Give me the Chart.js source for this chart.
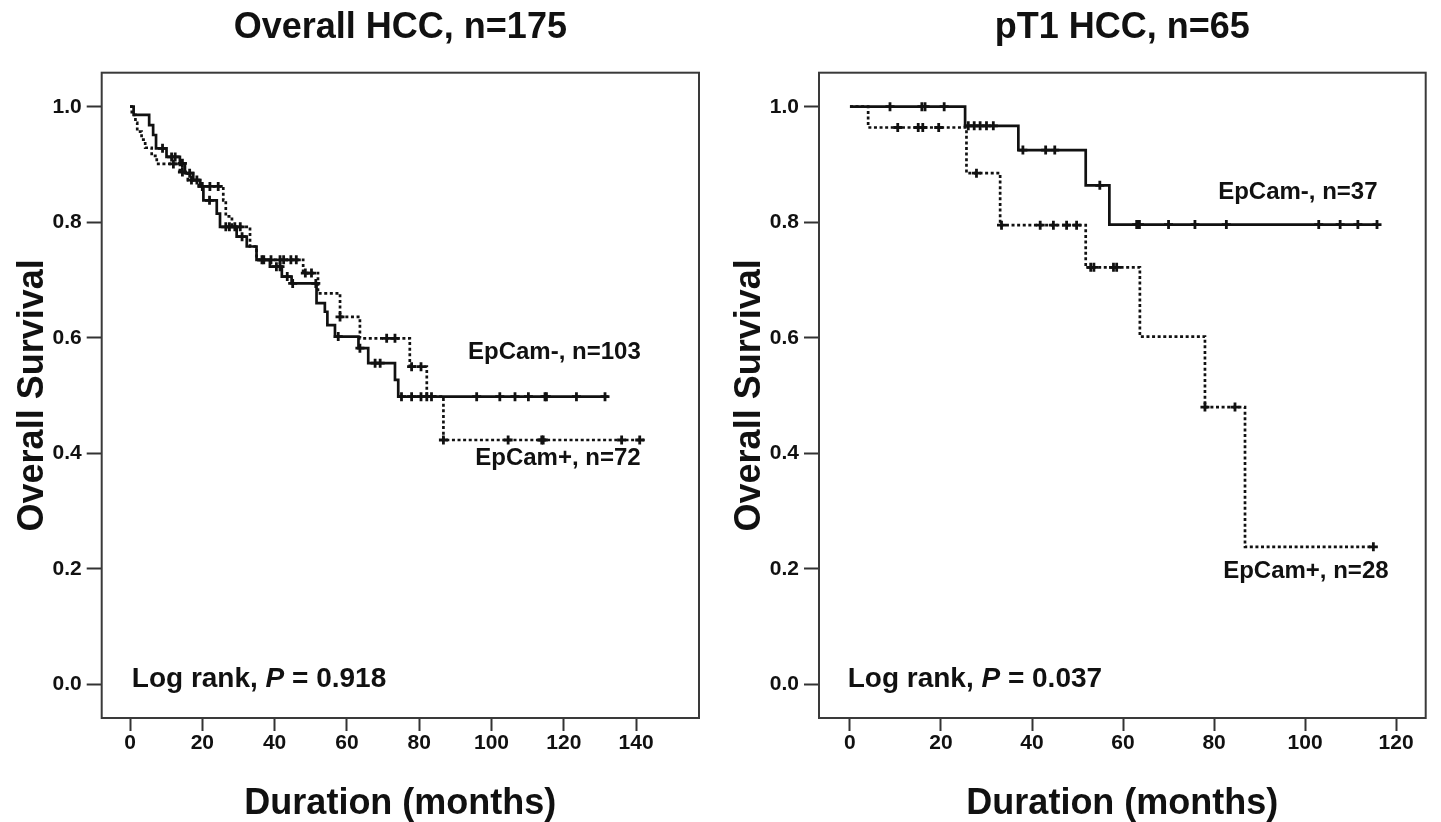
<!DOCTYPE html>
<html>
<head>
<meta charset="utf-8">
<title>EpCam survival - HCC</title>
<script src="https://cdn.jsdelivr.net/npm/chart.js@4.4.0/dist/chart.umd.min.js"></script>
<style>
  html, body { margin: 0; padding: 0; background: #fff; }
  body { width: 1441px; height: 822px; position: relative; overflow: hidden; }
  .panel { position: absolute; top: 0; height: 822px; }
  #panelOverall { left: 0; width: 717px; }
  #panelPT1 { left: 717px; width: 724px; }
</style>
</head>
<body>
<div class="panel" id="panelOverall"><canvas id="chart-overall"></canvas></div>
<div class="panel" id="panelPT1"><canvas id="chart-pt1"></canvas></div>
<script>
// ---- Overall HCC, n=175 ----
// step curves: time (months) where survival drops to the value
const overallNegTime = [0, 1.0, 5.3, 6.4, 7.2, 10.1, 13.8, 15.2, 17.5, 19.4, 20.3, 24.0, 24.9, 29.5, 32.3, 35.0, 38.7, 42.0, 44.7, 51.6, 53.9, 54.6, 56.7, 63.2, 65.9, 73.3, 74.2, 132.3];
const overallNegSurv = [1.0, 0.986, 0.968, 0.951, 0.928, 0.913, 0.902, 0.885, 0.873, 0.862, 0.838, 0.815, 0.792, 0.775, 0.758, 0.735, 0.723, 0.706, 0.694, 0.660, 0.645, 0.622, 0.602, 0.582, 0.556, 0.527, 0.498, 0.498];
const overallNegCensor = [9.0, 11.5, 12.5, 14.5, 16.5, 18.5, 22.0, 26.5, 27.5, 31.0, 37.0, 40.5, 41.5, 43.5, 45.0, 51.4, 57.6, 63.6, 67.8, 69.2, 75.1, 77.9, 80.5, 82.1, 83.4, 95.9, 102.3, 106.5, 110.2, 114.8, 115.2, 123.5, 131.4];

const overallPosTime = [0, 0.5, 1.5, 2.0, 3.2, 4.2, 6.0, 7.4, 13.8, 16.0, 19.0, 25.8, 26.5, 28.2, 33.2, 35.0, 47.9, 52.0, 58.1, 63.6, 77.4, 82.1, 86.7, 142.4];
const overallPosSurv = [1.0, 0.986, 0.972, 0.957, 0.943, 0.929, 0.915, 0.901, 0.887, 0.873, 0.862, 0.838, 0.810, 0.792, 0.758, 0.735, 0.712, 0.677, 0.636, 0.599, 0.550, 0.498, 0.423, 0.423];
const overallPosCensor = [12.0, 14.5, 17.0, 20.0, 22.1, 24.4, 29.0, 30.5, 36.5, 39.0, 41.5, 42.5, 44.5, 46.0, 48.5, 50.2, 58.1, 71.0, 73.3, 77.9, 80.5, 86.7, 104.6, 113.9, 114.3, 136.0, 141.0];

// ---- pT1 HCC, n=65 ----
const pt1NegTime = [0, 25.3, 37.0, 51.8, 57.0, 116.0];
const pt1NegSurv = [1.0, 0.967, 0.925, 0.864, 0.796, 0.796];
const pt1NegCensor = [8.8, 15.8, 16.5, 20.7, 26.0, 27.3, 28.6, 30.0, 31.5, 38.0, 43.0, 45.0, 54.9, 63.0, 63.6, 70.0, 75.8, 82.7, 103.0, 107.7, 111.6, 115.8];

const pt1PosTime = [0, 4.0, 25.6, 33.0, 51.8, 63.7, 78.0, 86.8, 115.0];
const pt1PosSurv = [1.0, 0.964, 0.885, 0.795, 0.722, 0.602, 0.480, 0.238, 0.238];
const pt1PosCensor = [10.5, 15.0, 16.0, 19.5, 27.8, 33.3, 41.8, 44.7, 47.6, 49.8, 52.9, 53.6, 57.9, 58.6, 78.0, 84.6, 115.0];

// axis ticks
const yTicks = [0, 0.2, 0.4, 0.6, 0.8, 1.0];
const overallXTicks = [0, 20, 40, 60, 80, 100, 120, 140];
const pt1XTicks = [0, 20, 40, 60, 80, 100, 120];

const FONT = '"Liberation Sans", Arial, sans-serif';
const NARROW = '"Liberation Sans Narrow", "Arial Narrow", "Liberation Sans", Arial, sans-serif';

function stepPoints(times, surv) {
    return times.map((t, i) => ({ x: t, y: surv[i] }));
}

function survivalAt(times, surv, t) {
    let s = surv[0];
    for (let i = 0; i < times.length; i++) {
        if (times[i] <= t) s = surv[i];
    }
    return s;
}

function censorPoints(times, surv, censor) {
    return censor.map(t => ({ x: t, y: survivalAt(times, surv, t) }));
}

// box round the plot area
const frameBox = {
    id: 'frameBox',
    beforeDatasetsDraw(chart) {
        const { ctx, chartArea: a } = chart;
        ctx.save();
        ctx.strokeStyle = '#3a3a3a';
        ctx.lineWidth = 2;
        ctx.strokeRect(a.left, a.top, a.right - a.left, a.bottom - a.top);
        ctx.restore();
    }
};

// panel title, group labels and the log rank line
const panelText = {
    id: 'panelText',
    afterDraw(chart, args, opts) {
        const { ctx, chartArea, scales: { x, y } } = chart;
        ctx.save();
        ctx.fillStyle = '#111';
        ctx.textBaseline = 'middle';

        ctx.font = 'bold 36px ' + FONT;
        ctx.textAlign = 'center';
        ctx.fillText(opts.title, (chartArea.left + chartArea.right) / 2, 28);

        ctx.font = 'bold 24px ' + FONT;
        ctx.textAlign = 'left';
        opts.labels.forEach(l => {
            ctx.fillText(l.text, x.getPixelForValue(l.x), y.getPixelForValue(l.y));
        });

        let px = x.getPixelForValue(opts.logRankX);
        const py = y.getPixelForValue(opts.logRankY);
        const parts = [['Log rank, ', 'bold'], ['P', 'italic bold'], [' = ' + opts.pValue, 'bold']];
        parts.forEach(([txt, style]) => {
            ctx.font = style + ' 28px ' + FONT;
            ctx.fillText(txt, px, py);
            px += ctx.measureText(txt).width;
        });
        ctx.restore();
    }
};

function curve(points, dashed) {
    return {
        data: points,
        showLine: true,
        stepped: 'before',
        borderColor: '#111',
        borderWidth: 2.7,
        borderDash: dashed ? [3, 2.6] : [],
        pointRadius: 0,
        fill: false
    };
}

function marks(points) {
    return {
        data: points,
        showLine: false,
        pointStyle: 'cross',
        pointRadius: 4.5,
        borderColor: '#111',
        backgroundColor: '#111',
        borderWidth: 2.8
    };
}

function makeOptions(cfg) {
    return {
        responsive: true,
        maintainAspectRatio: false,
        animation: false,
        layout: { padding: { top: 72.7, right: cfg.padRight, bottom: 0, left: 0 } },
        plugins: {
            legend: { display: false },
            tooltip: { enabled: false },
            panelText: cfg.text
        },
        scales: {
            x: {
                type: 'linear',
                min: cfg.xMin,
                max: cfg.xMax,
                afterFit: s => { s.height = 104; },
                afterBuildTicks: s => { s.ticks = cfg.xTicks.map(v => ({ value: v })); },
                grid: { drawOnChartArea: false, drawTicks: true, tickLength: 13, tickWidth: 2, tickColor: '#333' },
                border: { display: false },
                ticks: { font: { family: NARROW, size: 21, weight: 'bold' }, color: '#111', padding: 0, maxRotation: 0, autoSkip: false },
                title: {
                    display: true,
                    text: 'Duration (months)',
                    color: '#111',
                    font: { family: FONT, size: 36, weight: 'bold', lineHeight: 1 },
                    padding: { top: 0, bottom: 0 }
                }
            },
            y: {
                type: 'linear',
                min: -0.0583,
                max: 1.0589,
                afterFit: s => { s.width = cfg.yWidth; },
                afterBuildTicks: s => { s.ticks = yTicks.map(v => ({ value: v })); },
                grid: { drawOnChartArea: false, drawTicks: true, tickLength: 15, tickWidth: 2, tickColor: '#333' },
                border: { display: false },
                ticks: { font: { family: NARROW, size: 21, weight: 'bold' }, color: '#111', padding: 5, callback: v => Number(v).toFixed(1) },
                title: {
                    display: true,
                    text: 'Overall Survival',
                    color: '#111',
                    font: { family: FONT, size: 36, weight: 'bold', lineHeight: 1 },
                    padding: { top: 15, bottom: 0 }
                }
            }
        }
    };
}

const chartOverall = new Chart(document.getElementById('chart-overall'), {
    type: 'scatter',
    data: {
        datasets: [
            curve(stepPoints(overallPosTime, overallPosSurv), true),
            curve(stepPoints(overallNegTime, overallNegSurv), false),
            marks(censorPoints(overallPosTime, overallPosSurv, overallPosCensor)),
            marks(censorPoints(overallNegTime, overallNegSurv, overallNegCensor))
        ]
    },
    options: makeOptions({
        xMin: -7.83, xMax: 157.4, padRight: 18, yWidth: 101.7, xTicks: overallXTicks,
        text: {
            title: 'Overall HCC, n=175',
            labels: [
                { text: 'EpCam-, n=103', x: 93.5, y: 0.574 },
                { text: 'EpCam+, n=72', x: 95.5, y: 0.392 }
            ],
            logRankX: 0.5, logRankY: 0.009, pValue: '0.918'
        }
    }),
    plugins: [frameBox, panelText]
});

const chartPT1 = new Chart(document.getElementById('chart-pt1'), {
    type: 'scatter',
    data: {
        datasets: [
            curve(stepPoints(pt1PosTime, pt1PosSurv), true),
            curve(stepPoints(pt1NegTime, pt1NegSurv), false),
            marks(censorPoints(pt1PosTime, pt1PosSurv, pt1PosCensor)),
            marks(censorPoints(pt1NegTime, pt1NegSurv, pt1NegCensor))
        ]
    },
    options: makeOptions({
        xMin: -6.8, xMax: 126.5, padRight: 15.3, yWidth: 102, xTicks: pt1XTicks,
        text: {
            title: 'pT1 HCC, n=65',
            labels: [
                { text: 'EpCam-, n=37', x: 80.9, y: 0.851 },
                { text: 'EpCam+, n=28', x: 82.0, y: 0.195 }
            ],
            logRankX: -0.5, logRankY: 0.009, pValue: '0.037'
        }
    }),
    plugins: [frameBox, panelText]
});
</script>
</body>
</html>
